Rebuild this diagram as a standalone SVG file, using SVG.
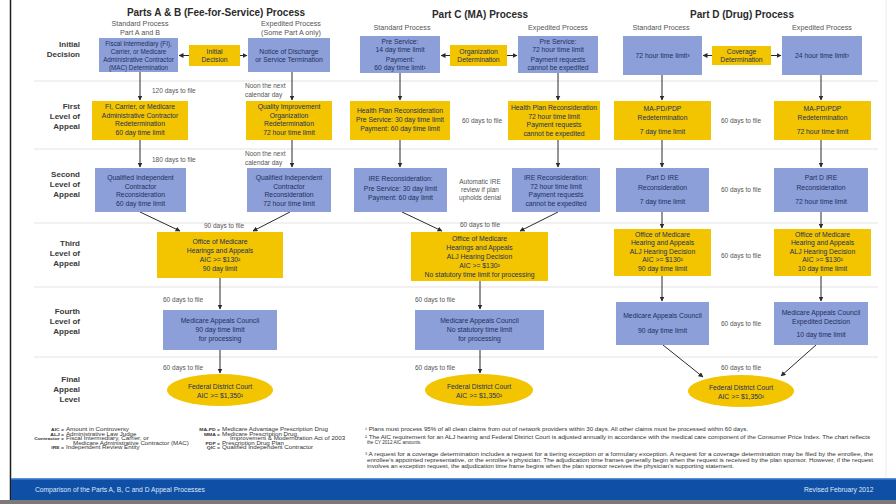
<svg xmlns="http://www.w3.org/2000/svg" width="896" height="504" viewBox="0 0 896 504">
<defs>
<marker id="ah" viewBox="0 0 10 10" refX="9" refY="5" markerWidth="5" markerHeight="5" orient="auto-start-reverse">
<path d="M0,0 L10,5 L0,10 z" fill="#2b2b2b"/>
</marker>
<style>
text{font-family:"Liberation Sans",Arial,sans-serif}
.blue{fill:#8c9fd8}
.yel{fill:#f3c400}
.bt{font-size:6.8px;fill:#22305e;text-anchor:middle}
.sm{font-size:6.3px}
.lb{font-size:6.5px;fill:#555;text-anchor:middle}
.ls{font-size:6.5px;fill:#555}
.row{font-size:8px;font-weight:bold;fill:#3a3a3a;text-anchor:end}
.title{font-size:10px;font-weight:bold;fill:#2a2a2a;text-anchor:middle}
.sub{font-size:7.2px;fill:#555;text-anchor:middle}
.sep{stroke:#e3e3e3;stroke-width:1}
.con{stroke:#2b2b2b;stroke-width:1;fill:none;marker-end:url(#ah)}
.leg{font-size:4.6px;fill:#333}
.lg{font-size:6.2px;fill:#333}
.lgr{font-size:5px;fill:#333;text-anchor:end;font-weight:bold}
.foot{font-size:6.7px;fill:#dfe8f7}
</style>
</defs>
<rect width="896" height="504" fill="#ffffff"/>
<line x1="10.5" y1="0" x2="10.5" y2="500" stroke="#1d1d1d" stroke-width="1.5"/>
<line x1="886" y1="0" x2="886" y2="478" stroke="#ececec" stroke-width="1"/>

<g id="separators">
<line class="sep" x1="34" y1="81" x2="878" y2="81"/>
<line class="sep" x1="34" y1="149" x2="878" y2="149"/>
<line class="sep" x1="34" y1="223" x2="878" y2="223"/>
<line class="sep" x1="34" y1="287" x2="878" y2="287"/>
<line class="sep" x1="34" y1="357" x2="878" y2="357"/>
</g>

<g id="titles">
<text class="title" x="216" y="16">Parts A &amp; B (Fee-for-Service) Process</text>
<text class="title" x="480" y="18">Part C (MA) Process</text>
<text class="title" x="742" y="18">Part D (Drug) Process</text>
<text class="sub" x="140" y="26">Standard Process</text>
<text class="sub" x="140" y="34.5">Part A and B</text>
<text class="sub" x="291" y="26">Expedited Process</text>
<text class="sub" x="291" y="34.5">(Some Part A only)</text>
<text class="sub" x="402" y="30">Standard Process</text>
<text class="sub" x="558" y="30">Expedited Process</text>
<text class="sub" x="661" y="30">Standard Process</text>
<text class="sub" x="822" y="30">Expedited Process</text>
</g>

<g id="row-labels">
<text class="row" x="80" y="47">Initial</text>
<text class="row" x="80" y="57">Decision</text>
<text class="row" x="80" y="109">First</text>
<text class="row" x="80" y="119">Level of</text>
<text class="row" x="80" y="129">Appeal</text>
<text class="row" x="80" y="177">Second</text>
<text class="row" x="80" y="187">Level of</text>
<text class="row" x="80" y="197">Appeal</text>
<text class="row" x="80" y="246">Third</text>
<text class="row" x="80" y="256">Level of</text>
<text class="row" x="80" y="266">Appeal</text>
<text class="row" x="80" y="314">Fourth</text>
<text class="row" x="80" y="324">Level of</text>
<text class="row" x="80" y="334">Appeal</text>
<text class="row" x="80" y="382">Final</text>
<text class="row" x="80" y="392">Appeal</text>
<text class="row" x="80" y="402">Level</text>
</g>

<g id="connectors">
<line class="con" x1="189" y1="55.5" x2="179" y2="55.5"/>
<line class="con" x1="240" y1="55.5" x2="247" y2="55.5"/>
<line class="con" x1="140" y1="72" x2="140" y2="100"/>
<line class="con" x1="292" y1="72" x2="292" y2="100"/>
<line class="con" x1="140" y1="140" x2="140" y2="167"/>
<line class="con" x1="292" y1="140" x2="292" y2="167"/>
<line class="con" x1="140" y1="212" x2="180" y2="231"/>
<line class="con" x1="290" y1="212" x2="253" y2="231"/>
<line class="con" x1="220" y1="278" x2="220" y2="309"/>
<line class="con" x1="220" y1="350" x2="220" y2="373"/>

<line class="con" x1="450" y1="55.5" x2="441" y2="55.5"/>
<line class="con" x1="507" y1="55.5" x2="517" y2="55.5"/>
<line class="con" x1="400" y1="73" x2="400" y2="100"/>
<line class="con" x1="558" y1="73" x2="558" y2="100"/>
<line class="con" x1="400" y1="140" x2="400" y2="167"/>
<line class="con" x1="558" y1="140" x2="558" y2="167"/>
<line class="con" x1="402" y1="212" x2="442" y2="231"/>
<line class="con" x1="558" y1="212" x2="520" y2="231"/>
<line class="con" x1="480" y1="281" x2="480" y2="309"/>
<line class="con" x1="480" y1="350" x2="480" y2="373"/>

<line class="con" x1="712" y1="55.5" x2="703" y2="55.5"/>
<line class="con" x1="771" y1="55.5" x2="781" y2="55.5"/>
<line class="con" x1="662" y1="75" x2="662" y2="100"/>
<line class="con" x1="821" y1="75" x2="821" y2="100"/>
<line class="con" x1="662" y1="140" x2="662" y2="167"/>
<line class="con" x1="821" y1="140" x2="821" y2="167"/>
<line class="con" x1="662" y1="212" x2="662" y2="228"/>
<line class="con" x1="821" y1="212" x2="821" y2="228"/>
<line class="con" x1="662" y1="276" x2="662" y2="301"/>
<line class="con" x1="821" y1="276" x2="821" y2="301"/>
<line class="con" x1="663" y1="345" x2="703" y2="377"/>
<line class="con" x1="816" y1="345" x2="781" y2="376"/>

<text class="ls" x="152" y="93">120 days to file</text>
<text class="ls" x="245" y="88">Noon the next</text>
<text class="ls" x="245" y="97">calendar day</text>
<text class="ls" x="152" y="162">180 days to file</text>
<text class="ls" x="245" y="156">Noon the next</text>
<text class="ls" x="245" y="165">calendar day</text>
<text class="lb" x="224" y="228">90 days to file</text>
<text class="ls" x="163" y="302">60 days to file</text>
<text class="ls" x="163" y="370">60 days to file</text>

<text class="lb" x="482" y="123">60 days to file</text>
<text class="lb" x="480" y="184">Automatic IRE</text>
<text class="lb" x="480" y="192">review if plan</text>
<text class="lb" x="480" y="200">upholds denial</text>
<text class="lb" x="480" y="227">60 days to file</text>
<text class="ls" x="415" y="302">60 days to file</text>
<text class="ls" x="415" y="370">60 days to file</text>

<text class="lb" x="741" y="123">60 days to file</text>
<text class="lb" x="741" y="192">60 days to file</text>
<text class="lb" x="741" y="258">60 days to file</text>
<text class="lb" x="741" y="326">60 days to file</text>
<text class="lb" x="741" y="370">60 days to file</text>
</g>

<!-- Parts A & B -->
<g id="ab-initial-std"><rect class="blue" x="99" y="38" width="79" height="34"/>
<text class="bt sm" x="138.5" y="46">Fiscal Intermediary (FI),</text>
<text class="bt sm" x="138.5" y="54">Carrier, or Medicare</text>
<text class="bt sm" x="138.5" y="62">Administrative Contractor</text>
<text class="bt sm" x="138.5" y="70">(MAC) Determination</text></g>
<g id="ab-initial-decision"><rect class="yel" x="189" y="45" width="51" height="21"/>
<text class="bt" x="214.5" y="54">Initial</text>
<text class="bt" x="214.5" y="62">Decision</text></g>
<g id="ab-initial-exp"><rect class="blue" x="248" y="38" width="82" height="34"/>
<text class="bt" x="289" y="54">Notice of Discharge</text>
<text class="bt" x="289" y="62">or Service Termination</text></g>
<g id="ab-first-std"><rect class="yel" x="92" y="101" width="96" height="39"/>
<text class="bt" x="140" y="109">FI, Carrier, or Medicare</text>
<text class="bt" x="140" y="117.5">Administrative Contractor</text>
<text class="bt" x="140" y="126">Redetermination</text>
<text class="bt" x="140" y="134.5">60 day time limit</text></g>
<g id="ab-first-exp"><rect class="yel" x="246" y="101" width="86" height="39"/>
<text class="bt" x="289" y="109">Quality Improvement</text>
<text class="bt" x="289" y="117.5">Organization</text>
<text class="bt" x="289" y="126">Redetermination</text>
<text class="bt" x="289" y="134.5">72 hour time limit</text></g>
<g id="ab-second-std"><rect class="blue" x="95" y="168" width="91" height="44"/>
<text class="bt" x="140.5" y="180">Qualified Independent</text>
<text class="bt" x="140.5" y="188.5">Contractor</text>
<text class="bt" x="140.5" y="197">Reconsideration</text>
<text class="bt" x="140.5" y="205.5">60 day time limit</text></g>
<g id="ab-second-exp"><rect class="blue" x="247" y="168" width="84" height="44"/>
<text class="bt" x="289" y="180">Qualified Independent</text>
<text class="bt" x="289" y="188.5">Contractor</text>
<text class="bt" x="289" y="197">Reconsideration</text>
<text class="bt" x="289" y="205.5">72 hour time limit</text></g>
<g id="ab-third"><rect class="yel" x="157" y="232" width="126" height="46"/>
<text class="bt" x="220" y="244">Office of Medicare</text>
<text class="bt" x="220" y="253">Hearings and Appeals</text>
<text class="bt" x="220" y="262">AIC &gt;= $130²</text>
<text class="bt" x="220" y="271">90 day limit</text></g>
<g id="ab-fourth"><rect class="blue" x="163" y="310" width="114" height="40"/>
<text class="bt" x="220" y="323">Medicare Appeals Council</text>
<text class="bt" x="220" y="332">90 day time limit</text>
<text class="bt" x="220" y="341">for processing</text></g>
<g id="ab-final"><ellipse class="yel" cx="220" cy="390" rx="53" ry="16"/>
<text class="bt" x="220" y="389">Federal District Court</text>
<text class="bt" x="220" y="398">AIC &gt;= $1,350²</text></g>

<!-- Part C -->
<g id="c-initial-std"><rect class="blue" x="360" y="36" width="80" height="37"/>
<text class="bt" x="400" y="44">Pre Service:</text>
<text class="bt" x="400" y="51.5">14 day time limit</text>
<text class="bt" x="400" y="62">Payment:</text>
<text class="bt" x="400" y="70">60 day time limit¹</text></g>
<g id="c-org-det"><rect class="yel" x="450" y="45" width="57" height="21"/>
<text class="bt" x="478.5" y="54">Organization</text>
<text class="bt" x="478.5" y="62">Determination</text></g>
<g id="c-initial-exp"><rect class="blue" x="518" y="36" width="80" height="37"/>
<text class="bt" x="558" y="44">Pre Service:</text>
<text class="bt" x="558" y="51.5">72 hour time limit</text>
<text class="bt" x="558" y="62">Payment requests</text>
<text class="bt" x="558" y="70">cannot be expedited</text></g>
<g id="c-first-std"><rect class="yel" x="350" y="101" width="100" height="39"/>
<text class="bt" x="400" y="113">Health Plan Reconsideration</text>
<text class="bt" x="400" y="122">Pre Service: 30 day time limit</text>
<text class="bt" x="400" y="131">Payment: 60 day time limit</text></g>
<g id="c-first-exp"><rect class="yel" x="508" y="101" width="92" height="39"/>
<text class="bt" x="554" y="110">Health Plan Reconsideration</text>
<text class="bt" x="554" y="118.5">72 hour time limit</text>
<text class="bt" x="554" y="127">Payment requests</text>
<text class="bt" x="554" y="135.5">cannot be expedited</text></g>
<g id="c-second-std"><rect class="blue" x="354" y="168" width="93" height="44"/>
<text class="bt" x="400.5" y="181">IRE Reconsideration:</text>
<text class="bt" x="400.5" y="190.5">Pre Service: 30 day limit</text>
<text class="bt" x="400.5" y="200">Payment: 60 day limit</text></g>
<g id="c-second-exp"><rect class="blue" x="512" y="168" width="88" height="44"/>
<text class="bt" x="556" y="180">IRE Reconsideration:</text>
<text class="bt" x="556" y="188.5">72 hour time limit</text>
<text class="bt" x="556" y="197">Payment requests</text>
<text class="bt" x="556" y="205.5">cannot be expedited</text></g>
<g id="c-third"><rect class="yel" x="411" y="232" width="137" height="49"/>
<text class="bt" x="479.5" y="240.5">Office of Medicare</text>
<text class="bt" x="479.5" y="249.5">Hearings and Appeals</text>
<text class="bt" x="479.5" y="258.5">ALJ Hearing Decision</text>
<text class="bt" x="479.5" y="267.5">AIC &gt;= $130²</text>
<text class="bt" x="479.5" y="276.5">No statutory time limit for processing</text></g>
<g id="c-fourth"><rect class="blue" x="415" y="310" width="129" height="40"/>
<text class="bt" x="479.5" y="323">Medicare Appeals Council</text>
<text class="bt" x="479.5" y="332">No statutory time limit</text>
<text class="bt" x="479.5" y="341">for processing</text></g>
<g id="c-final"><ellipse class="yel" cx="479" cy="390" rx="54" ry="16"/>
<text class="bt" x="479" y="389">Federal District Court</text>
<text class="bt" x="479" y="398">AIC &gt;= $1,350²</text></g>

<!-- Part D -->
<g id="d-initial-std"><rect class="blue" x="623" y="36" width="79" height="39"/>
<text class="bt" x="662.5" y="58">72 hour time limit³</text></g>
<g id="d-cov-det"><rect class="yel" x="712" y="46" width="59" height="19"/>
<text class="bt" x="741.5" y="54">Coverage</text>
<text class="bt" x="741.5" y="62">Determination</text></g>
<g id="d-initial-exp"><rect class="blue" x="782" y="36" width="80" height="39"/>
<text class="bt" x="822" y="58">24 hour time limit³</text></g>
<g id="d-first-std"><rect class="yel" x="614" y="101" width="97" height="39"/>
<text class="bt" x="662.5" y="111">MA-PD/PDP</text>
<text class="bt" x="662.5" y="120">Redetermination</text>
<text class="bt" x="662.5" y="134">7 day time limit</text></g>
<g id="d-first-exp"><rect class="yel" x="774" y="101" width="97" height="39"/>
<text class="bt" x="822.5" y="111">MA-PD/PDP</text>
<text class="bt" x="822.5" y="120">Redetermination</text>
<text class="bt" x="822.5" y="134">72 hour time limit</text></g>
<g id="d-second-std"><rect class="blue" x="616" y="168" width="93" height="44"/>
<text class="bt" x="662.5" y="180">Part D IRE</text>
<text class="bt" x="662.5" y="190">Reconsideration</text>
<text class="bt" x="662.5" y="204">7 day time limit</text></g>
<g id="d-second-exp"><rect class="blue" x="774" y="168" width="94" height="44"/>
<text class="bt" x="821" y="180">Part D IRE</text>
<text class="bt" x="821" y="190">Reconsideration</text>
<text class="bt" x="821" y="204">72 hour time limit</text></g>
<g id="d-third-std"><rect class="yel" x="614" y="229" width="97" height="47"/>
<text class="bt" x="662.5" y="236.5">Office of Medicare</text>
<text class="bt" x="662.5" y="245">Hearing and Appeals</text>
<text class="bt" x="662.5" y="253.5">ALJ Hearing Decision</text>
<text class="bt" x="662.5" y="262">AIC &gt;= $130²</text>
<text class="bt" x="662.5" y="270.5">90 day time limit</text></g>
<g id="d-third-exp"><rect class="yel" x="774" y="229" width="97" height="47"/>
<text class="bt" x="822.5" y="236.5">Office of Medicare</text>
<text class="bt" x="822.5" y="245">Hearing and Appeals</text>
<text class="bt" x="822.5" y="253.5">ALJ Hearing Decision</text>
<text class="bt" x="822.5" y="262">AIC &gt;= $130²</text>
<text class="bt" x="822.5" y="270.5">10 day time limit</text></g>
<g id="d-fourth-std"><rect class="blue" x="616" y="302" width="93" height="43"/>
<text class="bt" x="662.5" y="318">Medicare Appeals Council</text>
<text class="bt" x="662.5" y="333">90 day time limit</text></g>
<g id="d-fourth-exp"><rect class="blue" x="774" y="302" width="94" height="43"/>
<text class="bt" x="821" y="315">Medicare Appeals Council</text>
<text class="bt" x="821" y="324">Expedited Decision</text>
<text class="bt" x="821" y="337">10 day time limit</text></g>
<g id="d-final"><ellipse class="yel" cx="741" cy="391" rx="53" ry="16"/>
<text class="bt" x="741" y="390">Federal District Court</text>
<text class="bt" x="741" y="399">AIC &gt;= $1,350²</text></g>

<g id="legend">
<g transform="scale(1 0.75)">
<text class="lgr" x="64" y="574.7">AIC =</text><text class="lg" x="66" y="574.7">Amount in Controversy</text>
<text class="lgr" x="64" y="580.7">ALJ =</text><text class="lg" x="66" y="580.7">Administrative Law Judge</text>
<text class="lgr" x="64" y="586.7">Contractor =</text><text class="lg" x="66" y="586.7">Fiscal Intermediary, Carrier, or</text>
<text class="lg" x="73" y="592.7">Medicare Administrative Contractor (MAC)</text>
<text class="lgr" x="64" y="598.7">IRE =</text><text class="lg" x="66" y="598.7">Independent Review Entity</text>
<text class="lgr" x="220" y="574.7">MA-PD =</text><text class="lg" x="222" y="574.7">Medicare Advantage Prescription Drug</text>
<text class="lgr" x="220" y="580.7">MMA =</text><text class="lg" x="222" y="580.7">Medicare Prescription Drug,</text>
<text class="lg" x="230" y="586.7">Improvement &amp; Modernization Act of 2003</text>
<text class="lgr" x="220" y="592.7">PDP =</text><text class="lg" x="222" y="592.7">Prescription Drug Plan</text>
<text class="lgr" x="220" y="598.7">QIC =</text><text class="lg" x="222" y="598.7">Qualified Independent Contractor</text>
</g>
<text class="leg" x="365" y="431" textLength="383" lengthAdjust="spacingAndGlyphs">¹ Plans must process 95% of all clean claims from out of network providers within 30 days. All other claims must be processed within 60 days.</text>
<text class="leg" x="365" y="438.5" textLength="505" lengthAdjust="spacingAndGlyphs">² The AIC requirement for an ALJ hearing and Federal District Court is adjusted annually in accordance with the medical care component of the Consumer Price Index. The chart reflects</text>
<text class="leg" x="367" y="444">the CY 2012 AIC amounts.</text>
<text class="leg" x="365" y="456" textLength="508" lengthAdjust="spacingAndGlyphs">³ A request for a coverage determination includes a request for a tiering exception or a formulary exception. A request for a coverage determination may be filed by the enrollee, the</text>
<text class="leg" x="367" y="462" textLength="506" lengthAdjust="spacingAndGlyphs">enrollee's appointed representative, or the enrollee's physician. The adjudication time frames generally begin when the request is received by the plan sponsor. However, if the request</text>
<text class="leg" x="367" y="468" textLength="367" lengthAdjust="spacingAndGlyphs">involves an exception request, the adjudication time frame begins when the plan sponsor receives the physician's supporting statement.</text>
</g>

<g id="footer">
<rect x="11" y="478" width="885" height="22" fill="#0f50a6"/>
<rect x="11" y="478" width="885" height="1.5" fill="#5a8fd6"/>
<rect x="0" y="500" width="896" height="4" fill="#7a7a7a"/>
<text class="foot" x="35" y="491.5">Comparison of the Parts A, B, C and D Appeal Processes</text>
<text class="foot" x="804" y="491.5">Revised February 2012</text>
</g>
</svg>
